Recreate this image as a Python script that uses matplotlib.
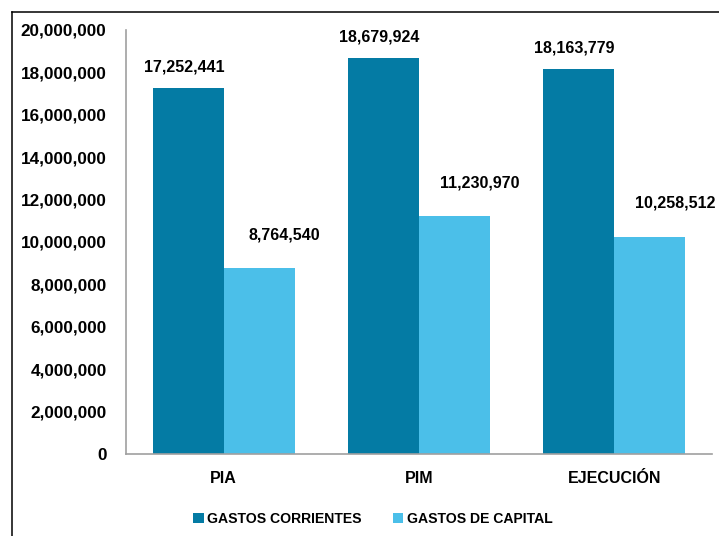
import matplotlib
matplotlib.use("Agg")
import matplotlib.pyplot as plt
from matplotlib.lines import Line2D
import numpy as np

# Budget figures (soles)
categories = ["PIA", "PIM", "EJECUCIÓN"]
series_names = ["GASTOS CORRIENTES", "GASTOS DE CAPITAL"]
gastos_corrientes = [17252441, 18679924, 18163779]
gastos_capital = [8764540, 11230970, 10258512]
y_ticks = [0, 2000000, 4000000, 6000000, 8000000, 10000000,
           12000000, 14000000, 16000000, 18000000, 20000000]

colors = ["#047ba4", "#4bbfe9"]

plt.rcParams["font.family"] = ["Liberation Sans", "DejaVu Sans"]
plt.rcParams["font.weight"] = "bold"

W, H = 719, 536
fig = plt.figure(figsize=(W / 100, H / 100), dpi=100)
ax = fig.add_axes([126 / W, 1 - 454 / H, (712 - 126) / W, (454 - 30) / H])

x = np.arange(len(categories))
bw = 0.3635
b1 = ax.bar(x - bw / 2, gastos_corrientes, bw, color=colors[0],
            label=series_names[0], zorder=2)
b2 = ax.bar(x + bw / 2, gastos_capital, bw, color=colors[1],
            label=series_names[1], zorder=2)

FS = 11.5

# Value labels above each bar
for rect, v in zip(b1, gastos_corrientes):
    ax.annotate(f"{v:,}", (rect.get_x() + rect.get_width() / 2, v),
                xytext=(-3, 15), textcoords="offset points",
                ha="center", va="center", fontsize=FS, fontweight="bold")
for rect, v in zip(b2, gastos_capital):
    ax.annotate(f"{v:,}", (rect.get_x() + rect.get_width() / 2, v),
                xytext=(18, 24), textcoords="offset points",
                ha="center", va="center", fontsize=FS, fontweight="bold")

ax.set_xlim(-0.5, 2.5)
ax.set_ylim(0, 20000000)
ax.set_yticks(y_ticks)
ax.set_yticklabels([f"{t:,}" for t in y_ticks])
ax.set_xticks(x)
ax.set_xticklabels(categories)
ax.tick_params(axis="y", length=0, pad=14, labelsize=12.3)
ax.tick_params(axis="x", length=0, pad=12, labelsize=FS)
for lbl in ax.get_xticklabels() + ax.get_yticklabels():
    lbl.set_fontweight("bold")

for side in ("top", "right"):
    ax.spines[side].set_visible(False)
for side in ("left", "bottom"):
    ax.spines[side].set_color("#a0a0a0")
    ax.spines[side].set_linewidth(1.2)

leg = fig.legend(handles=[b1, b2], labels=series_names, loc="center",
                 bbox_to_anchor=(373 / W, 1 - 519 / H), ncol=2, frameon=False,
                 handlelength=0.75, handleheight=0.75, handletextpad=0.25,
                 columnspacing=2.2, prop={"size": 10.1, "weight": "bold"})

# Outer chart frame
fx, fy = 11.5 / W, 1 - 11.5 / H
fig.add_artist(Line2D([fx, fx], [0, fy], transform=fig.transFigure,
                      color="black", lw=1.1))
fig.add_artist(Line2D([fx, 1], [fy, fy], transform=fig.transFigure,
                      color="black", lw=1.1))

fig.savefig("out.png", dpi=100)
